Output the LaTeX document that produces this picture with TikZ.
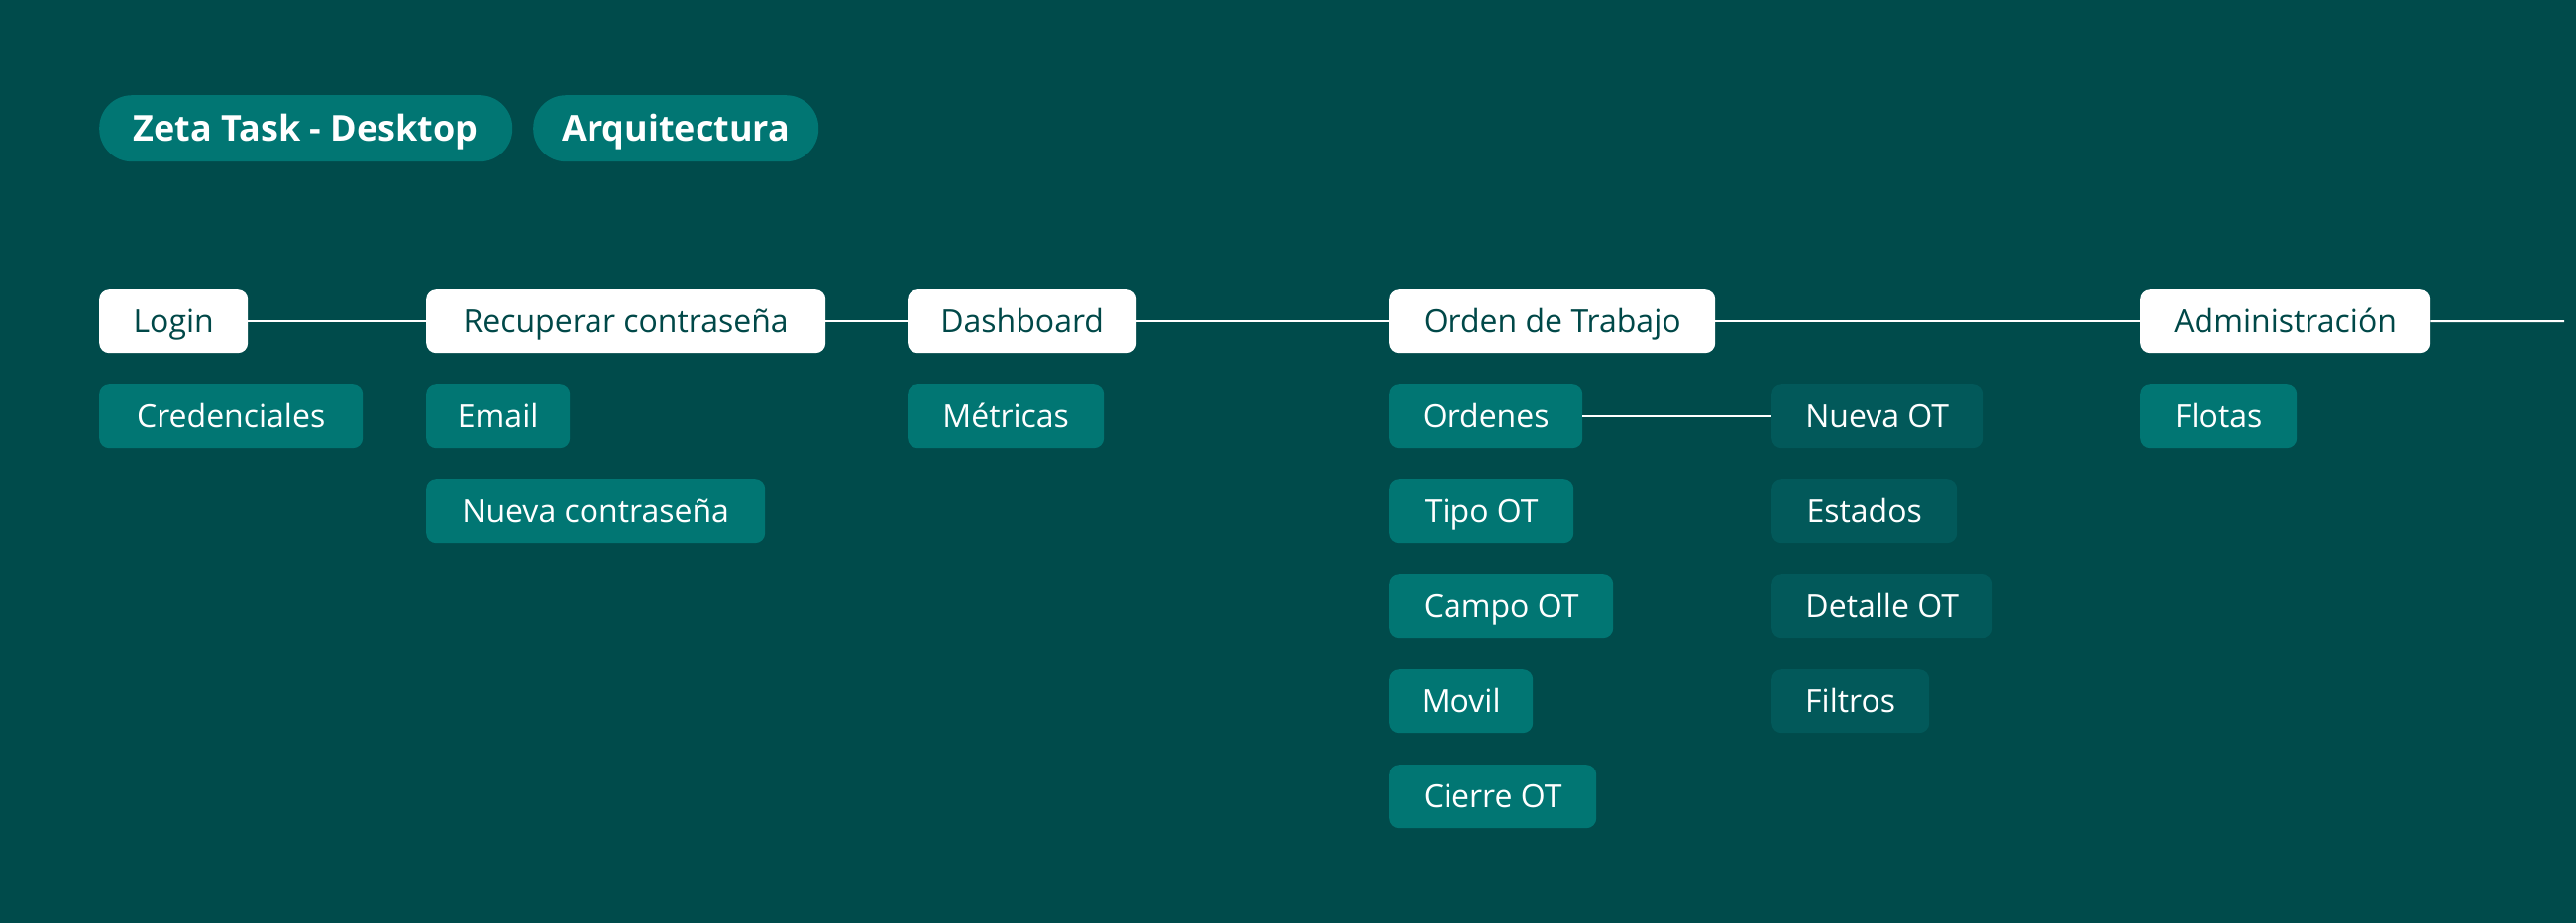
\documentclass[tikz,border=0pt]{standalone}
\usepackage{fontspec}
\setmainfont{Open Sans}
\definecolor{bg}{HTML}{004B4B}
\definecolor{teal}{HTML}{017673}
\definecolor{darkbox}{HTML}{02595A}
\definecolor{ink}{HTML}{004848}
\tikzset{
  base/.style={anchor=north west, minimum height=64pt, inner sep=0pt, align=center,
    text height=22.5pt, text depth=0pt,
    font=\fontsize{32}{32}\selectfont},
  wbox/.style={base, fill=white, text=ink, rounded corners=10pt},
  tbox/.style={base, fill=teal, text=white, rounded corners=10pt},
  dbox/.style={base, fill=darkbox, text=white, rounded corners=10pt},
  pill/.style={anchor=north west, minimum height=67pt, inner sep=0pt, fill=teal, text=white,
    text height=26pt, text depth=0pt,
    rounded corners=33pt, font=\fontsize{36}{36}\selectfont\bfseries},
  conn/.style={draw=white, line width=2pt}
}
\begin{document}
\begin{tikzpicture}[x=1pt,y=-1pt]
\fill[bg] (0,0) rectangle (2600,932);
\useasboundingbox (0,0) rectangle (2600,932);
% title pills
\node[pill, minimum width=417pt] (zeta) at (100,96) {Zeta Task - Desktop};
\node[pill, minimum width=288pt] (arq) at (538,96) {Arquitectura};
% main row
\node[wbox, minimum width=150pt] (login) at (100,292) {Login};
\node[wbox, minimum width=403pt] (recup) at (430,292) {Recuperar contraseña};
\node[wbox, minimum width=231pt] (dash) at (916,292) {Dashboard};
\node[wbox, minimum width=329pt] (orden) at (1402,292) {Orden de Trabajo};
\node[wbox, minimum width=293pt] (admin) at (2160,292) {Administración};
\coordinate (endR) at (2588,324);
% children
\node[tbox, minimum width=266pt] (cred) at (100,388) {Credenciales};
\node[tbox, minimum width=145pt] (email) at (430,388) {Email};
\node[tbox, minimum width=342pt] (nuevacon) at (430,484) {Nueva contraseña};
\node[tbox, minimum width=198pt] (metr) at (916,388) {Métricas};
\node[tbox, minimum width=195pt] (ordenes) at (1402,388) {Ordenes};
\node[tbox, minimum width=186pt] (tipo) at (1402,484) {Tipo OT};
\node[tbox, minimum width=226pt] (campo) at (1402,580) {Campo OT};
\node[tbox, minimum width=145pt] (movil) at (1402,676) {Movil};
\node[tbox, minimum width=209pt] (cierre) at (1402,772) {Cierre OT};
\node[dbox, minimum width=213pt] (nuevaot) at (1788,388) {Nueva OT};
\node[dbox, minimum width=187pt] (estados) at (1788,484) {Estados};
\node[dbox, minimum width=223pt] (detalle) at (1788,580) {Detalle OT};
\node[dbox, minimum width=159pt] (filtros) at (1788,676) {Filtros};
\node[tbox, minimum width=158pt] (flotas) at (2160,388) {Flotas};
% connectors
\draw[conn] (login.east) -- (recup.west);
\draw[conn] (recup.east) -- (dash.west);
\draw[conn] (dash.east) -- (orden.west);
\draw[conn] (orden.east) -- (admin.west);
\draw[conn] (admin.east) -- (endR);
\draw[conn] (ordenes.east) -- (nuevaot.west);
\end{tikzpicture}
\end{document}
